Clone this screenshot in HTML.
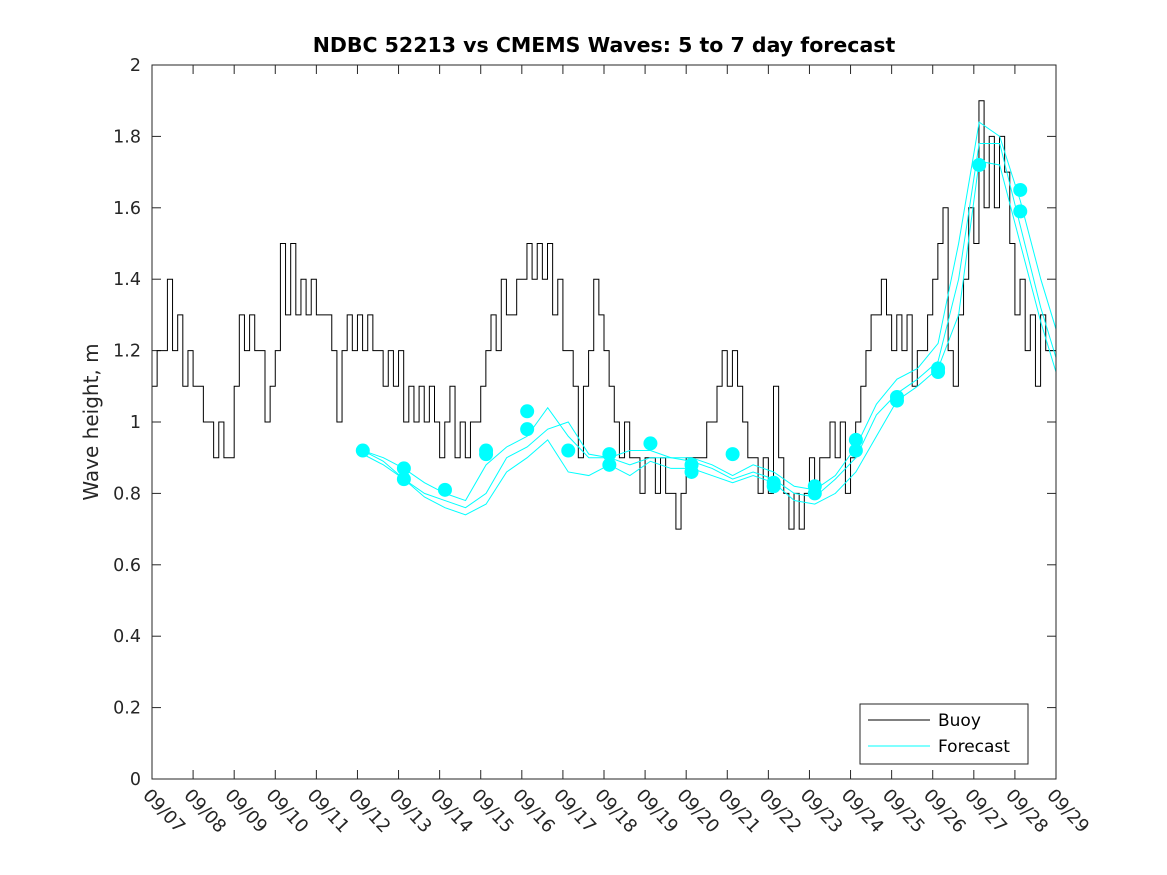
<!DOCTYPE html>
<html><head><meta charset="utf-8"><style>
html,body{margin:0;padding:0;background:#fff;}
svg{display:block;font-family:"DejaVu Sans","Liberation Sans",sans-serif;}
</style></head><body>
<svg id="chart" width="1167" height="875" viewBox="0 0 1167 875" xmlns="http://www.w3.org/2000/svg">
<rect width="1167" height="875" fill="#fff"/>
<text x="604" y="52" text-anchor="middle" font-size="20.5" font-weight="bold" fill="#000">NDBC 52213 vs CMEMS Waves: 5 to 7 day forecast</text>
<text transform="translate(98,422) rotate(-90)" text-anchor="middle" font-size="20" fill="#262626">Wave height, m</text>
<g id="axes"></g>
<g id="series"></g>
<rect x="152" y="65" width="904" height="714" fill="none" stroke="#262626" stroke-width="1"/>
<g>
<rect x="860" y="704" width="168" height="60" fill="#fff" stroke="#262626" stroke-width="1"/>
<line x1="868" y1="720" x2="930" y2="720" stroke="#000" stroke-width="1"/>
<text x="938" y="726" font-size="17" fill="#000">Buoy</text>
<line x1="868" y1="746" x2="930" y2="746" stroke="#00ffff" stroke-width="1"/>
<text x="938" y="752" font-size="17" fill="#000">Forecast</text>
</g>
</svg>
<script>
const xTickLabels=["09/07","09/08","09/09","09/10","09/11","09/12","09/13","09/14","09/15","09/16","09/17","09/18","09/19","09/20","09/21","09/22","09/23","09/24","09/25","09/26","09/27","09/28","09/29"];
const yTicks=[0,0.2,0.4,0.6,0.8,1,1.2,1.4,1.6,1.8,2];
const yTickLabels=["0","0.2","0.4","0.6","0.8","1","1.2","1.4","1.6","1.8","2"];
const buoyStepDays=0.125;
const buoy=[1.1,1.2,1.2,1.4,1.2,1.3,1.1,1.2,1.1,1.1,1.0,1.0,0.9,1.0,0.9,0.9,1.1,1.3,1.2,1.3,1.2,1.2,1.0,1.1,1.2,1.5,1.3,1.5,1.3,1.4,1.3,1.4,1.3,1.3,1.3,1.2,1.0,1.2,1.3,1.2,1.3,1.2,1.3,1.2,1.2,1.1,1.2,1.1,1.2,1.0,1.1,1.0,1.1,1.0,1.1,1.0,0.9,1.0,1.1,0.9,1.0,0.9,1.0,1.0,1.1,1.2,1.3,1.2,1.4,1.3,1.3,1.4,1.4,1.5,1.4,1.5,1.4,1.5,1.3,1.4,1.2,1.2,1.1,0.9,1.1,1.2,1.4,1.3,1.2,1.1,1.0,0.9,1.0,0.9,0.9,0.8,0.9,0.9,0.8,0.9,0.8,0.8,0.7,0.8,0.9,0.9,0.9,0.9,1.0,1.0,1.1,1.2,1.1,1.2,1.1,1.0,0.9,0.9,0.8,0.9,0.8,1.1,0.9,0.8,0.7,0.8,0.7,0.8,0.9,0.8,0.9,0.9,1.0,0.9,1.0,0.8,0.9,1.0,1.1,1.2,1.3,1.3,1.4,1.3,1.2,1.3,1.2,1.3,1.1,1.2,1.2,1.3,1.4,1.5,1.6,1.2,1.1,1.3,1.4,1.6,1.5,1.9,1.6,1.8,1.6,1.8,1.7,1.5,1.3,1.4,1.2,1.3,1.1,1.3,1.2,1.2,1.2];
const fcStartDay=5.13;
const fcStepDays=0.5;
const forecastA=[0.92,0.90,0.87,0.83,0.80,0.78,0.88,0.93,0.96,1.04,0.96,0.90,0.90,0.92,0.92,0.90,0.90,0.88,0.85,0.88,0.86,0.82,0.81,0.85,0.93,1.05,1.12,1.15,1.22,1.50,1.84,1.80,1.62,1.40,1.26];
const forecastB=[0.92,0.89,0.84,0.80,0.78,0.76,0.80,0.90,0.93,0.98,1.00,0.91,0.90,0.88,0.90,0.90,0.89,0.87,0.84,0.86,0.84,0.80,0.79,0.84,0.90,1.02,1.08,1.12,1.17,1.40,1.78,1.78,1.55,1.32,1.18];
const forecastC=[0.91,0.88,0.84,0.79,0.76,0.74,0.77,0.86,0.90,0.95,0.86,0.85,0.88,0.85,0.89,0.87,0.87,0.85,0.83,0.85,0.83,0.78,0.77,0.80,0.86,0.96,1.06,1.10,1.15,1.30,1.73,1.72,1.50,1.28,1.14];
const dotDays=[5.13,6.13,6.13,7.13,8.13,8.13,9.13,9.13,10.13,11.13,11.13,12.13,13.13,13.13,14.13,15.13,15.13,16.13,16.13,17.13,17.13,18.13,18.13,19.13,19.13,20.13,21.13,21.13];
const dotVals=[0.92,0.87,0.84,0.81,0.92,0.91,1.03,0.98,0.92,0.91,0.88,0.94,0.88,0.86,0.91,0.83,0.82,0.82,0.80,0.95,0.92,1.07,1.06,1.15,1.14,1.72,1.65,1.59];

const NS="http://www.w3.org/2000/svg";
const X0=152,X1=1056,Y0=779,Y1=65,DAYS=22,YMAX=2;
function xs(d){return X0+(X1-X0)*d/DAYS;}
function ys(v){return Y0-(Y0-Y1)*v/YMAX;}
const axes=document.getElementById('axes');
const ser=document.getElementById('series');
function mk(tag,attrs,parent){const e=document.createElementNS(NS,tag);for(const k in attrs)e.setAttribute(k,attrs[k]);parent.appendChild(e);return e;}
xTickLabels.forEach((lab,i)=>{
  const x=xs(i);
  const t1=mk('line',{x1:x,y1:Y0,x2:x,y2:Y0-9,stroke:'#262626'},axes);
  
  
  const t2=mk('line',{x1:x,y1:Y1,x2:x,y2:Y1+9,stroke:'#262626'},axes);
  
  
  const tx=mk('text',{transform:`translate(${x-10},${796}) rotate(47)`,'font-size':'18',fill:'#262626'},axes);
  tx.textContent=lab;
  
  
});
yTicks.forEach((v,i)=>{
  const y=ys(v);
  const t1=mk('line',{x1:X0,y1:y,x2:X0+9,y2:y,stroke:'#262626'},axes);
  
  
  const t2=mk('line',{x1:X1,y1:y,x2:X1-9,y2:y,stroke:'#262626'},axes);
  
  
  const tx=mk('text',{x:141,y:y+6,'text-anchor':'end','font-size':'17.5',fill:'#262626'},axes);
  tx.textContent=yTickLabels[i];
  
  
});
let d='';
buoy.forEach((v,i)=>{
  const x=xs(i*buoyStepDays),y=ys(v);
  if(i===0)d+=`M${x},${y}`;else d+=`V${y}`;
  const xn=xs(Math.min((i+1)*buoyStepDays,DAYS));
  d+=`H${xn}`;
});
const bp=mk('path',{d:d,fill:'none',stroke:'#000','stroke-width':'1'},ser);


[forecastA,forecastB,forecastC].forEach((arr,k)=>{
  const pts=arr.map((v,i)=>`${xs(Math.min(fcStartDay+i*fcStepDays,DAYS))},${ys(v)}`).join(' ');
  const pl=mk('polyline',{points:pts,fill:'none',stroke:'#00ffff','stroke-width':'1'},ser);
  
  
});
dotDays.forEach((dd,i)=>{
  const c=mk('circle',{cx:xs(dd),cy:ys(dotVals[i]),r:7,fill:'#00ffff'},ser);
  
  
});
</script>
</body></html>
